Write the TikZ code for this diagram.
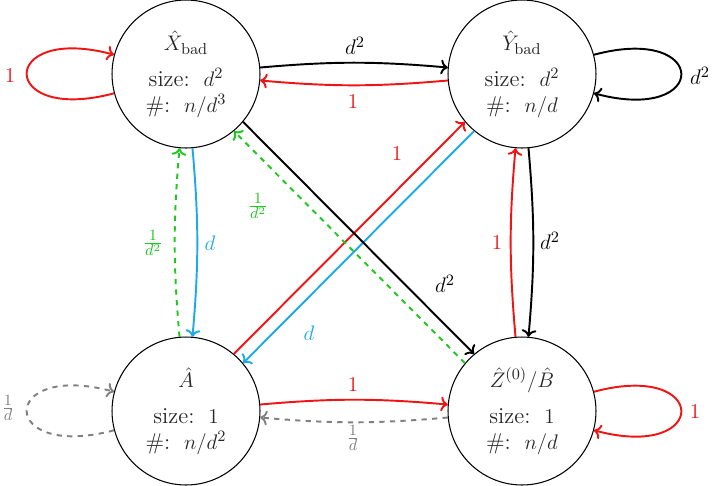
\documentclass[tikz,border=0pt]{standalone}
\usetikzlibrary{arrows.meta}
\definecolor{myred}{RGB}{240,20,20}
\definecolor{myblue}{RGB}{30,170,230}
\definecolor{mygreen}{RGB}{30,200,30}
\definecolor{mygray}{RGB}{128,128,128}
\newcommand{\myfont}{\fontsize{13}{14.5}\selectfont}
\tikzset{
  state/.style={circle,draw,line width=0.6pt,minimum size=2.96cm,inner sep=0pt,align=center,text=black!85,font=\myfont},
  edge/.style={->,line width=1.1pt},
  lab/.style={inner sep=1pt,font=\myfont},
}
\begin{document}
\begin{tikzpicture}[x=0.02cm,y=-0.02cm]
\useasboundingbox (0,0) rectangle (714,485);
\node[state] (X) at (186,74) {$\hat{X}_{\mathrm{bad}}$\\[6pt] size: \,$d^2$\\ \#: \,$n/d^3$};
\node[state] (Y) at (522,74) {$\hat{Y}_{\mathrm{bad}}$\\[6pt] size: \,$d^2$\\ \#: \,$n/d$};
\node[state] (A) at (186,411) {$\hat{A}$\\[6pt] size: \,$1$\\ \#: \,$n/d^2$};
\node[state] (Z) at (522,411) {$\hat{Z}^{(0)}/\hat{B}$\\[6pt] size: \,$1$\\ \#: \,$n/d$};

% self loops
\draw[edge,myred] (X) to[loop left] (X);
\draw[edge,black] (Y) to[loop right] (Y);
\draw[edge,myred] (Z) to[loop right] (Z);
\draw[edge,mygray,dashed] (A) to[loop left] (A);

% top pair
\draw[edge,black] (X) to[bend left=5] (Y);
\draw[edge,myred] (Y) to[bend left=5] (X);
% right pair
\draw[edge,black] (Y) to[bend left=5] (Z);
\draw[edge,myred] (Z) to[bend left=5] (Y);
% bottom pair
\draw[edge,myred] (A) to[bend left=5] (Z);
\draw[edge,mygray,dashed] (Z) to[bend left=5] (A);
% left pair
\draw[edge,myblue] (X) to[bend left=5] (A);
\draw[edge,mygreen,dashed] (A) to[bend left=5] (X);
% diagonals (straight)
\draw[edge,myred] (A.50) -- (Y.220);
\draw[edge,myblue] (Y.230) -- (A.40);
\draw[edge,black] (X.-40) -- (Z.130);
\draw[edge,mygreen,dashed] (Z.140) -- (X.-50);

% labels
\node[lab,text=myred] (lX) at (10,76) {$1$};
\node[lab,text=black] (lY) at (700,76) {$d^2$};
\node[lab,text=myred] (lZ) at (695,412) {$1$};
\node[lab,text=mygray] (lA) at (8,408) {$\frac{1}{d}$};
\node[lab,text=black] (lXY) at (355,46) {$d^2$};
\node[lab,text=myred] (lYX) at (353,102) {$1$};
\node[lab,text=black] (lYZ) at (550,241) {$d^2$};
\node[lab,text=myred] (lZY) at (497,243) {$1$};
\node[lab,text=myred] (lAZ) at (353,385) {$1$};
\node[lab,text=mygray] (lZA) at (353,438) {$\frac{1}{d}$};
\node[lab,text=myblue] (lXA) at (210,243) {$d$};
\node[lab,text=mygreen] (lAX) at (153,243) {$\frac{1}{d^2}$};
\node[lab,text=myred] (lAY) at (397,154) {$1$};
\node[lab,text=myblue] (lYA) at (309,333) {$d$};
\node[lab,text=black] (lXZ) at (445,284) {$d^2$};
\node[lab,text=mygreen] (lZX) at (258,206) {$\frac{1}{d^2}$};
\end{tikzpicture}
\end{document}
